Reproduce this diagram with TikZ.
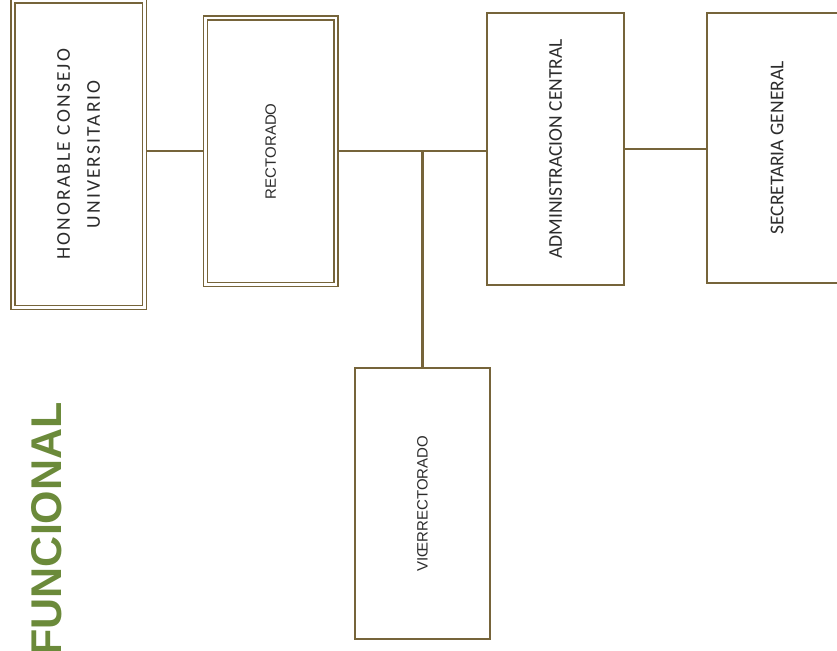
\documentclass[tikz,border=0pt]{standalone}
\usepackage{fontspec}
\setmainfont{Carlito}
\newfontfamily\arialf{Liberation Sans}
\usetikzlibrary{backgrounds}
\definecolor{lc}{HTML}{76643A}
\definecolor{tc}{HTML}{2C2C2C}
\definecolor{gc}{HTML}{6B8A3A}
\tikzset{
  boxs/.style={draw=lc, line width=2pt, fill=white, inner sep=0pt, text=tc},
  dboxs/.style={draw=lc, line width=1.8pt, double=white, double distance=2.2pt, fill=white, inner sep=0pt, text=tc},
  conn/.style={draw=lc, line width=2.2pt},
  cfont/.style={font=\fontsize{19.5}{30}\selectfont},
  afont/.style={font=\arialf\fontsize{15}{18}\selectfont}
}
\begin{document}
\begin{tikzpicture}[x=1pt,y=-1pt]
\useasboundingbox (0,0) rectangle (837,650);
\clip (0,0) rectangle (837,650);
\node[dboxs, cfont, minimum width=131.5pt, minimum height=306.5pt] (hcu) at (78.75,154.25)
  {\rotatebox{90}{\addfontfeature{LetterSpace=11}\begin{tabular}{@{}c@{}}HONORABLE CONSEJO\\UNIVERSITARIO\end{tabular}}};
\node[dboxs, afont, minimum width=130.5pt, minimum height=266.5pt] (rect) at (270.75,151.25)
  {\rotatebox{90}{RECTORADO}};
\node[boxs, cfont, minimum width=137pt, minimum height=272pt] (admin) at (555.5,149)
  {\rotatebox{90}{ADMINISTRACION CENTRAL}};
\node[boxs, cfont, minimum width=140pt, minimum height=270pt] (sec) at (777,148)
  {\rotatebox{90}{SECRETARIA GENERAL}};
\node[boxs, afont, minimum width=135pt, minimum height=271pt] (vice) at (422.5,503.5)
  {\rotatebox{90}{VIŒRRECTORADO}};
\node[rotate=90, anchor=east, inner sep=0pt, text=gc, font=\arialf\bfseries\fontsize{43}{50}\selectfont] (title) at (47,402) {FUNCIONAL};
\begin{pgfonlayer}{background}
\draw[conn] (rect.west) -- (rect.west -| hcu.east);
\draw[conn] (rect.east) -- (rect.east -| admin.west);
\coordinate (j) at (rect.east -| vice.north);
\draw[conn] (j) -- (vice.north);
\draw[conn] (admin.east) -- (admin.east -| sec.west);
\end{pgfonlayer}
\end{tikzpicture}
\end{document}
